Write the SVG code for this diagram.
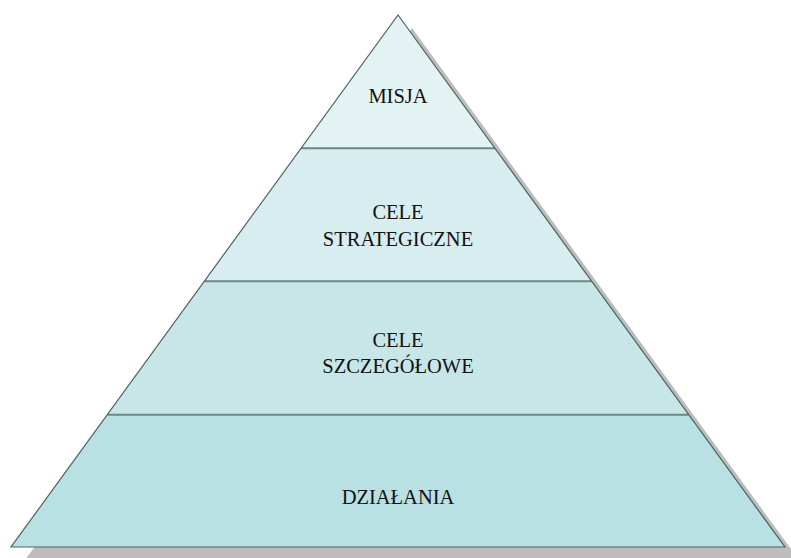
<svg xmlns="http://www.w3.org/2000/svg" width="791" height="558" viewBox="0 0 791 558">
<style>
.band{stroke:none}
.sep{stroke:#6e8686;stroke-width:2;fill:none}
.edge{stroke:#4d6262;stroke-width:1.2;fill:none;stroke-linejoin:miter}
.lbl{font-family:"Liberation Serif","Times New Roman","DejaVu Serif",serif;font-size:20.5px;fill:#111;text-anchor:middle}
</style>
<rect width="791" height="558" fill="#ffffff"/>
<polygon id="shadow" points="412,28 799,560 25,560" fill="#bdbdbd"/>
<g id="misja">
<polygon class="band" points="398,15 495,148.3 301,148.3" fill="#e3f3f3"/>
<text class="lbl" x="398" y="103">MISJA</text>
</g>
<g id="cele-strategiczne">
<polygon class="band" points="301,148.3 495,148.3 591.7,281.3 204.3,281.3" fill="#d7edef"/>
<text class="lbl" x="398" y="219">CELE</text>
<text class="lbl" x="398" y="246">STRATEGICZNE</text>
</g>
<g id="cele-szczegolowe">
<polygon class="band" points="204.3,281.3 591.7,281.3 688.7,414.7 107.3,414.7" fill="#c8e6e8"/>
<text class="lbl" x="398" y="347">CELE</text>
<text class="lbl" x="398" y="373">SZCZEGÓŁOWE</text>
</g>
<g id="dzialania">
<polygon class="band" points="107.3,414.7 688.7,414.7 785,547 11,547" fill="#b9e0e2"/>
<text class="lbl" x="398" y="504">DZIAŁANIA</text>
</g>
<g id="connectors">
<line class="sep" x1="301" y1="148.3" x2="495" y2="148.3"/>
<line class="sep" x1="204.3" y1="281.3" x2="591.7" y2="281.3"/>
<line class="sep" x1="107.3" y1="414.7" x2="688.7" y2="414.7"/>
<polygon class="edge" points="398,15 785,547 11,547"/>
</g>
</svg>
